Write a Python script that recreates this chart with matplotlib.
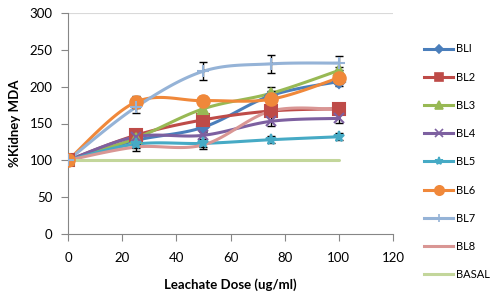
import numpy as np
import matplotlib
matplotlib.use("Agg")
import matplotlib.pyplot as plt
from matplotlib.lines import Line2D

plt.rcParams['font.family'] = ['Lato', 'DejaVu Sans']

dose = [0, 25, 50, 75, 100]
series_names = ["BLI", "BL2", "BL3", "BL4", "BL5", "BL6", "BL7", "BL8", "BASAL"]
BL1 = [100, 127, 145, 188, 207]
BL2 = [100, 134, 155, 167, 170]
BL3 = [100, 130, 170, 191, 222]
BL4 = [100, 132, 134, 153, 157]
BL5 = [100, 122, 123, 128, 132]
BL6 = [100, 179, 181, 183, 212]
BL7 = [100, 172, 221, 231, 232]
BL8 = [100, 118, 121, 167, 169]
BASAL = [100, 100, 100, 100, 100]

ERR1 = [0, 5, 5, 6, 6]
ERR2 = [0, 6, 5, 6, 6]
ERR3 = [0, 5, 6, 8, 5]
ERR4 = [0, 5, 5, 7, 6]
ERR5 = [0, 5, 5, 5, 5]
ERR6 = [0, 8, 6, 6, 6]
ERR7 = [0, 8, 12, 12, 10]
ERR8 = [0, 5, 5, 5, 5]

values = [BL1, BL2, BL3, BL4, BL5, BL6, BL7, BL8, BASAL]
errors = [ERR1, ERR2, ERR3, ERR4, ERR5, ERR6, ERR7, ERR8, None]
colors = ["#4A7EBB", "#BE4B48", "#98B954", "#7D60A0", "#46AAC5",
          "#F0883A", "#95B3D7", "#D99694", "#C3D69B"]
markers = ["D", "s", "^", "x", "*", "o", "+", None, None]
msizes = [6, 8, 7, 7, 8, 9, 8, 0, 0]


def smooth(xs, ys, n=30):
    xs = np.asarray(xs, float)
    ys = np.asarray(ys, float)
    P = np.column_stack([xs, ys])
    out = [P[0]]
    for i in range(len(P) - 1):
        p0 = P[i - 1] if i > 0 else P[i]
        p1 = P[i]
        p2 = P[i + 1]
        p3 = P[i + 2] if i + 2 < len(P) else P[i + 1]
        c1 = p1 + (p2 - p0) / 6.0
        c2 = p2 - (p3 - p1) / 6.0
        t = np.linspace(0, 1, n)[1:, None]
        seg = ((1 - t) ** 3) * p1 + 3 * ((1 - t) ** 2) * t * c1 + 3 * (1 - t) * t ** 2 * c2 + t ** 3 * p2
        out.extend(seg)
    out = np.array(out)
    return out[:, 0], out[:, 1]


fig = plt.figure(figsize=(4.99, 2.97), dpi=100)
ax = fig.add_axes([68 / 499, 1 - 234 / 297, (393 - 68) / 499, (234 - 13) / 297])

handles = []
for name, v, e, c, m, ms in zip(series_names, values, errors, colors, markers, msizes):
    sx, sy = smooth(dose, v)
    ax.plot(sx, sy, color=c, lw=2.2, solid_capstyle='round', zorder=2)
    if e is not None:
        ax.errorbar(dose[1:], v[1:], yerr=e[1:], fmt='none', ecolor='black',
                    elinewidth=1.0, capsize=3, capthick=1.0, zorder=3)
    if m is not None:
        ax.plot(dose, v, linestyle='none', marker=m, color=c, ms=ms,
                markeredgecolor=c, markeredgewidth=1.5, zorder=4)
    handles.append(Line2D([0], [0], color=c, lw=2.2, marker=m, ms=ms * 0.75 if m else 0,
                          markeredgecolor=c, markeredgewidth=1.2))

ax.set_xlim(0, 120)
ax.set_ylim(0, 300)
ax.set_xticks(np.arange(0, 121, 20))
ax.set_yticks(np.arange(0, 301, 50))
ax.axhline(300, color='#D9D9D9', lw=0.8, zorder=0)
for s in ['top', 'right']:
    ax.spines[s].set_visible(False)
for s in ['left', 'bottom']:
    ax.spines[s].set_color('#868686')
    ax.spines[s].set_linewidth(0.8)
ax.tick_params(axis='both', direction='out', length=5, color='#868686',
               labelsize=9.5, labelcolor='black')
ax.tick_params(axis='x', pad=8)
ax.tick_params(axis='y', pad=6)
ax.set_xlabel("Leachate Dose (ug/ml)", fontsize=9.5, fontweight='bold', labelpad=10)
ax.set_ylabel("%Kidney MDA", fontsize=9.5, fontweight='bold', labelpad=6)

fig.legend(handles, series_names, loc='upper left', bbox_to_anchor=(420 / 499, 1 - 39 / 297),
           frameon=False, fontsize=8, handlelength=2.6, handletextpad=0.2,
           labelspacing=1.55, borderaxespad=0)

fig.savefig("out.png", dpi=100)
